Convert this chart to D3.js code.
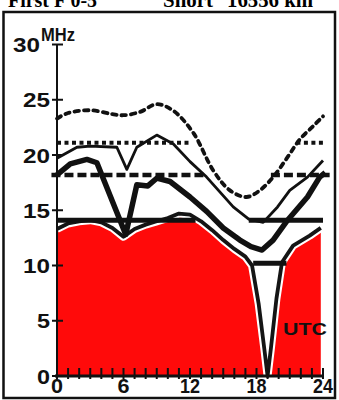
<!DOCTYPE html>
<html><head><meta charset="utf-8">
<script src="https://cdn.jsdelivr.net/npm/d3@7"></script>
<style>html,body{margin:0;padding:0;background:#fff;}svg{display:block;}</style>
</head><body>
<svg id="c" width="339" height="400"></svg>
<script>
// ---- data ----
const titleLeft = "First F 0-5";
const titleMid = "Short";
const titleRight = "16556 km";
const yUnit = "MHz";
const xUnit = "UTC";
const yTicks = [0, 5, 10, 15, 20, 25, 30];
const xLabels = [0, 6, 12, 18, 24];
const xMinor = d3.range(0, 25);

// lowest usable frequency (red area)
const lufHours = [0,1,2,3,4,5,6,7,8,9,10,11,12,13,14,15,16,17,17.6,18.2,18.7,19,19.3,19.8,20.3,21.3,22.8,23.8];
const lufMHz   = [13.3,13.8,14.0,14.1,13.9,13.4,12.6,13.3,13.7,14.0,14.3,14.7,14.6,14.0,13.2,12.3,11.5,10.8,10.0,6.5,2.5,0,2.5,7,10.3,11.8,12.7,13.4];

// upper decile MUF (dotted)
const upperHours = [0,1,3,5,6,7.5,9,10.5,12.3,14.1,15.6,17.1,18.3,19.5,20.8,21.9,23.1,24];
const upperMHz   = [23.3,23.8,24.05,23.7,23.6,23.9,24.6,24.0,22.0,18.6,16.8,16.2,16.8,18.0,19.8,21.4,22.6,23.5];

// median MUF (thin solid)
const medianHours = [0,1.8,3,5.4,6.3,7.2,9,10.5,12,13.5,15.9,17.3,18.6,19.9,21,22.6,24];
const medianMHz   = [19.7,20.7,20.8,20.7,18.7,20.7,21.8,21.0,19.4,18.0,15.3,14.2,13.9,15.3,16.8,18.0,19.5];

// lower decile MUF (thick solid)
const lowerHours = [0,1.2,2.7,3.6,6.2,7.2,8.2,9,10.2,12,13.5,15,16.5,17.5,18.5,19.5,20.8,22.6,23.7,24.2];
const lowerMHz   = [18.2,19.2,19.6,19.3,12.8,17.3,17.2,17.9,17.6,16.2,14.9,13.4,12.3,11.7,11.4,12.3,14.1,16.2,18.0,18.4];

// amateur band openings: MHz level and [start hour, end hour] spans
const band21 = {mhz: 21.1, spans: [[0, 12], [21.6, 24.3]]};
const band18 = {mhz: 18.2, spans: [[-0.5, 13.5], [19.3, 24.6]]};
const band14 = {mhz: 14.1, spans: [[0, 12.5], [17.3, 24]]};
const band10 = {mhz: 10.2, spans: [[17.7, 20.7]]};

// ---- drawing ----
const svg = d3.select("#c");
const x = d3.scaleLinear().domain([0, 24]).range([57, 323]);
const y = d3.scaleLinear().domain([0, 30]).range([376, 44.5]);

const zip = (hs, vs) => hs.map((h, i) => [h, vs[i]]);
const lineGen = d3.line().x(d => x(d[0])).y(d => y(d[1]));

// red LUF area
const luf = zip(lufHours, lufMHz);
svg.append("path")
  .datum(luf)
  .attr("d", d3.area().x(d => x(d[0])).y0(y(0)).y1(d => y(d[1])))
  .attr("fill", "#ff0a0a");
svg.append("path").datum(luf).attr("d", lineGen)
  .attr("fill", "none").attr("stroke", "#fff").attr("stroke-width", 8)
  .attr("stroke-linejoin", "round");
svg.append("path").datum(luf).attr("d", lineGen)
  .attr("fill", "none").attr("stroke", "#151515").attr("stroke-width", 3.8)
  .attr("stroke-linejoin", "round");

// band lines
function drawBand(b, width, dash) {
  b.spans.forEach(s => {
    svg.append("line")
      .attr("x1", x(s[0])).attr("x2", x(s[1]))
      .attr("y1", y(b.mhz)).attr("y2", y(b.mhz))
      .attr("stroke", "#111").attr("stroke-width", width)
      .attr("stroke-dasharray", dash);
  });
}
drawBand(band21, 4, "4,3.5");
drawBand(band18, 4.5, "9,4");
drawBand(band14, 5, null);
drawBand(band10, 5, null);

// MUF curves
svg.append("path").datum(zip(upperHours, upperMHz))
  .attr("d", d3.line().x(d => x(d[0])).y(d => y(d[1])).curve(d3.curveCatmullRom))
  .attr("fill", "none").attr("stroke", "#111").attr("stroke-width", 3.8)
  .attr("stroke-dasharray", "4.5,5").attr("stroke-linecap", "round");
svg.append("path").datum(zip(medianHours, medianMHz))
  .attr("d", lineGen)
  .attr("fill", "none").attr("stroke", "#111").attr("stroke-width", 2.8)
  .attr("stroke-linejoin", "round");
svg.append("path").datum(zip(lowerHours, lowerMHz))
  .attr("d", lineGen)
  .attr("fill", "none").attr("stroke", "#111").attr("stroke-width", 5.5)
  .attr("stroke-linejoin", "round");

// y axis
svg.append("line").attr("x1", x(0)).attr("x2", x(0))
  .attr("y1", y(0)).attr("y2", y(30)).attr("stroke", "#111").attr("stroke-width", 2);
svg.selectAll(".yt").data(yTicks).enter().append("line")
  .attr("x1", x(0) - 5).attr("x2", x(0) + 6)
  .attr("y1", d => y(d)).attr("y2", d => y(d))
  .attr("stroke", "#111").attr("stroke-width", 2);
svg.selectAll(".yl").data(yTicks).enter().append("text")
  .attr("x", d => d === 30 ? 40 : 50).attr("y", d => y(d) + 7.5)
  .attr("text-anchor", "end")
  .attr("font-family", "Liberation Sans, Arial, sans-serif")
  .attr("font-weight", "bold").attr("font-size", 20)
  .attr("textLength", d => String(d).length === 1 ? 13 : 27)
  .attr("lengthAdjust", "spacingAndGlyphs")
  .attr("fill", "#111").text(d => d);
svg.append("text").attr("x", 41).attr("y", 41)
  .attr("font-family", "Liberation Sans, Arial, sans-serif")
  .attr("font-weight", "bold").attr("font-size", 18)
  .attr("textLength", 34).attr("lengthAdjust", "spacingAndGlyphs")
  .attr("fill", "#111").text(yUnit);

// x axis
svg.selectAll(".xt").data(xMinor).enter().append("line")
  .attr("x1", d => x(d)).attr("x2", d => x(d))
  .attr("y1", y(0) - 8).attr("y2", y(0) + 3)
  .attr("stroke", "#111").attr("stroke-width", 2);
svg.append("line").attr("x1", x(0) - 2).attr("x2", x(24))
  .attr("y1", y(0)).attr("y2", y(0)).attr("stroke", "#111").attr("stroke-width", 3);
svg.selectAll(".xl").data(xLabels).enter().append("text")
  .attr("x", d => x(d)).attr("y", 393)
  .attr("text-anchor", "middle")
  .attr("font-family", "Liberation Sans, Arial, sans-serif")
  .attr("font-weight", "bold").attr("font-size", 20)
  .attr("textLength", d => String(d).length === 1 ? 12 : 20)
  .attr("lengthAdjust", "spacingAndGlyphs")
  .attr("fill", "#111").text(d => d);
svg.append("text").attr("x", 283).attr("y", 335)
  .attr("font-family", "Liberation Sans, Arial, sans-serif")
  .attr("font-weight", "bold").attr("font-size", 17)
  .attr("textLength", 44).attr("lengthAdjust", "spacingAndGlyphs")
  .attr("fill", "#111").text(xUnit);

// frame
svg.append("rect").attr("x", 3.5).attr("y", 12).attr("width", 331.5).attr("height", 386)
  .attr("fill", "none").attr("stroke", "#111").attr("stroke-width", 2.5);

// title (top cut off as in the scan)
const tfont = "Liberation Serif, Times New Roman, serif";
svg.append("text").attr("x", 8).attr("y", 7).attr("font-family", tfont)
  .attr("font-weight", "bold").attr("font-size", 20)
  .attr("textLength", 89).attr("lengthAdjust", "spacingAndGlyphs").text(titleLeft);
svg.append("text").attr("x", 163).attr("y", 7).attr("font-family", tfont)
  .attr("font-weight", "bold").attr("font-size", 20)
  .attr("textLength", 50).attr("lengthAdjust", "spacingAndGlyphs").text(titleMid);
svg.append("text").attr("x", 227).attr("y", 7).attr("font-family", tfont)
  .attr("font-weight", "bold").attr("font-size", 20)
  .attr("textLength", 86).attr("lengthAdjust", "spacingAndGlyphs").text(titleRight);
</script>
</body></html>
